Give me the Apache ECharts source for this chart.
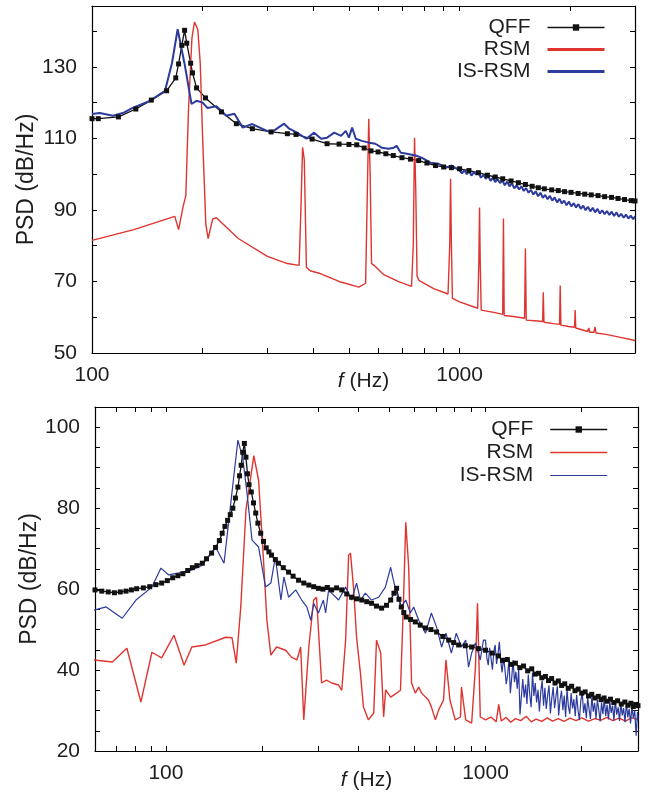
<!DOCTYPE html>
<html>
<head>
<meta charset="utf-8">
<title>PSD spectra</title>
<script src="https://cdn.jsdelivr.net/npm/echarts@6/dist/echarts.min.js"></script>
<style>
  html, body { margin: 0; padding: 0; background: #fff; }
  #chart { width: 649px; height: 802px; }
</style>
</head>
<body>
<div id="chart"></div>
<script>
/* -------------------------------------------------------------------------- */
/*                  Data: [frequency (Hz), PSD (dB/Hz)] pairs                 */
/* -------------------------------------------------------------------------- */

// upper panel
const topQff = [
  [100, 115.5], [104, 115.5], [118, 116], [131.6, 118.2], [145, 120.7], [159.6, 123.3],
  [169, 126.9], [172, 130.8], [175.5, 136], [178.6, 140.2], [181, 136.6], [185.5, 131],
  [187.7, 128.3], [192.5, 124.1], [203.6, 121.3], [225, 117.4], [247, 114.1], [273, 112.7],
  [307, 111.8], [340, 111.3], [359, 111.1], [397, 109.8], [436, 108.5], [470, 108.4],
  [500, 108.3], [525, 108.2], [550, 107.3], [574, 106.5], [600, 106.2], [630, 105.7],
  [660, 105.2], [697, 104.6], [735, 104.2], [774, 103.8], [815, 103.1], [860, 102.4],
  [905, 102.0], [950, 101.8], [1000, 101.5], [1060, 101.0], [1125, 100.4], [1190, 99.7],
  [1250, 99.2], [1310, 98.7], [1380, 98.1], [1445, 97.6], [1510, 97.1], [1575, 96.6],
  [1637, 96.2], [1700, 95.9], [1780, 95.6], [1855, 95.4], [1930, 95.1], [2010, 94.9],
  [2101, 94.6], [2190, 94.4], [2280, 94.2], [2380, 94.0], [2480, 93.7], [2590, 93.5],
  [2697, 93.2], [2810, 92.9], [2930, 92.6], [3000, 92.5]
];

const topRsm = [
  [100, 81.5], [130, 84.5], [160, 87.5], [168, 88.2], [172, 84.5], [177, 91], [180, 94],
  [183, 118], [187, 138], [190, 142.5], [194, 140.5], [197, 131], [200, 110], [204, 86],
  [207, 82], [213, 87.5], [218, 87.8], [250, 82], [300, 77], [340, 75], [366, 74.5],
  [370, 90], [374, 107.5], [378, 104], [383, 74], [392, 73], [415, 72.3], [470, 70],
  [532, 68.4], [555, 69.5], [561, 95], [566, 115.5], [571, 100], [576, 75], [585, 74.5],
  [620, 72], [680, 70], [740, 68.6], [748, 80], [754, 110.2], [760, 95], [766, 71.5],
  [775, 70.3], [850, 68], [930, 66.5], [940, 80], [945, 98.7], [950, 80], [956, 65.3],
  [1000, 64.3], [1120, 62.5], [1128, 75], [1133, 90.7], [1138, 75], [1145, 62],
  [1250, 61.3], [1310, 60.8], [1316, 87.6], [1322, 60.5], [1400, 60.2], [1502, 59.7],
  [1510, 79.2], [1518, 59.2], [1600, 59], [1682, 58.8], [1689, 67], [1696, 58.6],
  [1800, 58.2], [1870, 58], [1878, 68.9], [1886, 57.8], [1980, 57.4], [2055, 57.2],
  [2062, 62], [2070, 57], [2150, 56.5], [2230, 56], [2245, 57], [2260, 55.8], [2320, 55.8],
  [2335, 57.3], [2350, 55.6], [2500, 55.2], [2700, 54.5], [3000, 53.5]
];

const topIsRsm = [
  [100, 116.8], [105, 117.1], [114, 116.3], [122, 117.2], [129, 118.5], [143.6, 120.5],
  [158, 123.3], [165, 131], [171, 140.5], [178.6, 130.8], [186.5, 119.6], [192.5, 120.5],
  [200, 120], [206, 118.5], [218, 119], [232, 116.3], [244, 116.9], [257, 113], [273, 114],
  [290, 112.7], [307, 111.6], [333, 114.1], [344, 112.7], [361, 111.6], [383, 109.9],
  [402, 111.6], [420, 109.9], [436, 110.2], [456, 111.6], [476, 110.7], [490, 112.1],
  [500, 110.2], [510, 113], [522, 109.9], [542, 109.3], [567, 108.8], [590, 108.5],
  [614, 107.4], [641, 107.1], [662, 107.4], [674, 107.9], [692, 106], [719, 105.7],
  [759, 105.2], [788, 104.6], [833, 103.2], [877, 102.9], [916, 101.8], [952, 102.4],
  [1000, 101.0], [1015, 100.2], [1030, 101.1], [1046, 100.0], [1061, 100.8], [1077, 99.6],
  [1093, 100.5], [1110, 99.9], [1126, 100.3], [1143, 99.0], [1161, 99.8], [1178, 98.7],
  [1196, 99.5], [1214, 98.1], [1232, 99.0], [1250, 97.8], [1269, 98.6], [1288, 97.5],
  [1307, 98.2], [1327, 96.9], [1347, 97.9], [1367, 96.6], [1388, 97.4], [1408, 96.0],
  [1430, 96.9], [1451, 95.7], [1473, 96.6], [1495, 95.3], [1517, 96.1], [1540, 94.8],
  [1563, 95.6], [1587, 94.3], [1610, 95.2], [1635, 93.8], [1659, 94.8], [1684, 93.4],
  [1709, 94.2], [1735, 93.0], [1761, 93.9], [1787, 92.6], [1814, 93.5], [1841, 92.1],
  [1869, 93.1], [1897, 91.8], [1925, 92.6], [1954, 91.3], [1984, 92.3], [2013, 91.0],
  [2044, 91.9], [2074, 90.7], [2105, 91.6], [2137, 90.3], [2169, 91.2], [2201, 89.9],
  [2234, 90.9], [2268, 89.6], [2302, 90.6], [2336, 89.3], [2372, 90.3], [2407, 89.0],
  [2443, 89.9], [2480, 88.8], [2517, 89.7], [2555, 88.6], [2593, 89.5], [2632, 88.3],
  [2672, 89.3], [2712, 88.1], [2752, 88.9], [2794, 87.8], [2835, 88.7], [2878, 87.6],
  [2921, 88.4], [2965, 87.4], [3000, 88.2]
];

// lower panel
const bottomQff = [
  [60, 59.8], [63, 59.5], [66, 59.3], [69, 59.1], [72, 59.3], [75, 59.5], [78, 59.8],
  [81, 60.1], [85, 60.3], [89, 60.6], [93, 61.1], [97, 61.5], [101, 62.1], [105, 62.8],
  [109, 63.3], [113, 63.8], [117, 64.6], [121, 65.3], [125, 65.8], [130, 66.4], [134, 67.5],
  [139, 68.9], [143, 70.3], [147, 72], [150, 73.8], [153, 75.5], [156, 77], [159, 78.4],
  [162, 80], [165, 82.5], [168, 85.2], [170, 88], [172, 90.6], [174, 93.8], [176, 96],
  [178, 92.6], [180, 88.5], [182, 85.8], [185, 84], [188, 81.3], [191, 78.8], [194, 76.3],
  [198, 73.8], [202, 71.8], [206, 70.2], [210, 69.2], [214, 68.4], [220, 67.3], [225, 66.4],
  [233, 65.3], [242, 64.2], [250, 63.2], [260, 62.2], [270, 61.5], [280, 61], [290, 60.6],
  [300, 60.2], [310, 60], [320, 60.4], [330, 59.8], [342, 60.3], [355, 59.8], [368, 58.8],
  [381, 58], [395, 57.6], [410, 57.3], [425, 56.9], [440, 56.5], [456, 55.8], [473, 55.3],
  [490, 56], [505, 57.3], [517, 59], [527, 60.2], [536, 57.5], [545, 55.6], [555, 54.2],
  [565, 53.1], [583, 52.5], [603, 51.9], [625, 51.1], [649, 50.4], [675, 50], [703, 49.4],
  [735, 48.3], [767, 47.4], [795, 46.8], [824, 46.2], [865, 46], [905, 45.7], [950, 45.3],
  [1000, 44.9], [1050, 44.2], [1098, 43.5], [1130, 42.4], [1170, 42.6], [1205, 41.4],
  [1240, 41.7], [1280, 40.6], [1315, 41.0], [1355, 39.8], [1395, 40.3], [1430, 39.0],
  [1465, 39.2], [1500, 38.1], [1540, 38.4], [1575, 37.4], [1610, 37.9], [1650, 36.8],
  [1690, 37.3], [1730, 36.2], [1770, 36.6], [1815, 35.5], [1860, 36.0], [1905, 34.9],
  [1950, 35.3], [2000, 34.3], [2050, 34.6], [2100, 33.6], [2150, 34.0], [2200, 33.1],
  [2254, 33.5], [2300, 32.7], [2350, 33.1], [2400, 32.3], [2460, 32.8], [2520, 32.0],
  [2590, 32.4], [2660, 31.6], [2730, 32.1], [2790, 31.3], [2850, 31.8], [2900, 31.0],
  [2950, 31.5], [3000, 31.2]
];

const bottomRsm = [
  [59.6, 42.5], [68, 42], [75.5, 45.4], [83.5, 32.1], [90.4, 44.4], [97, 43], [106, 48.6],
  [114, 41.2], [120.5, 45.7], [133, 46.2], [154, 48.1], [161, 48], [166, 41.7], [171.5, 55.6],
  [178, 79.5], [188.4, 93], [195, 86.9], [202, 67.2], [207, 52.3], [213, 43.7], [222, 45.7],
  [237, 44.9], [247, 43.2], [257, 42.5], [264, 45.7], [270, 27.7], [280, 45.7], [290, 57.3],
  [296, 58], [307, 36.8], [318, 37.5], [330, 36.8], [347, 36.3], [355, 35], [365, 47.4],
  [373, 68.4], [378, 68.9], [387, 59.8], [395, 48.1], [406, 39.3], [415, 30.9], [430, 27.7],
  [447, 29.4], [456, 47.4], [470, 44.2], [480, 28.4], [487, 35.1], [505, 33.3], [527, 34.3],
  [542, 35], [554, 57.3], [563, 76.5], [575, 65.4], [587, 36.8], [603, 34.3], [618, 35.8],
  [631, 34.3], [663, 32.6], [677, 30.9], [697, 27.7], [713, 30.1], [739, 32.6], [752, 42.5],
  [774, 32.6], [804, 27.7], [835, 28.4], [841, 35.8], [867, 27.7], [905, 26.9], [930, 40.7],
  [944, 56.5], [963, 28.4], [1000, 27.7], [1040, 28.4], [1080, 27.2], [1100, 31.5],
  [1120, 27.4], [1160, 28.3], [1200, 27.1], [1240, 28.0], [1290, 27.5], [1340, 28.6],
  [1390, 27.2], [1440, 27.9], [1500, 27.3], [1560, 28.2], [1620, 27.4], [1690, 28.0],
  [1760, 27.3], [1840, 28.1], [1920, 27.5], [2000, 28.2], [2100, 27.4], [2200, 28.0],
  [2300, 27.6], [2400, 28.3], [2500, 27.5], [2620, 28.1], [2740, 27.4], [2860, 28.2],
  [3000, 27.8]
];

const bottomIsRsm = [
  [59.6, 54.8], [65, 55.6], [73, 52.8], [80.6, 57.3], [90.4, 60.5], [96.5, 65.2], [102, 63.5],
  [110, 64], [120, 64.7], [130, 65.9], [143, 70.4], [152, 66.4], [157, 76.3], [163, 87.7],
  [168, 96.8], [174, 92.3], [179, 84.4], [186, 72.1], [195, 70.4], [205, 60.5], [213, 61.5],
  [220, 67.9], [229, 57.3], [234, 63], [242, 58], [255, 59.8], [266, 57.3], [276, 55.6],
  [284, 52.3], [290, 56.5], [300, 54.1], [311, 57.3], [316, 54.1], [323, 59.8], [330, 59],
  [347, 57.3], [365, 60.5], [381, 57.3], [395, 61.5], [406, 57.3], [421, 59], [440, 57.3],
  [463, 58], [486, 60.5], [505, 65.4], [515, 62.2], [527, 59], [545, 55.6], [563, 57.3],
  [582, 54.1], [596, 55.6], [618, 52.3], [649, 49.1], [677, 54.1], [703, 50.6], [729, 45.7],
  [752, 49.1], [782, 44.2], [810, 49.1], [841, 45.7], [867, 47.4], [885, 40.7], [905, 44.2],
  [930, 46.7], [963, 42.5], [985, 47.4],
  [1000, 47.4], [1010, 43.0], [1020, 41.2], [1030, 45.5], [1041, 42.8], [1051, 40.1],
  [1062, 44.6], [1072, 46.2], [1083, 41.5], [1094, 43.9], [1105, 47.0], [1116, 42.2],
  [1127, 39.4], [1138, 43.0], [1149, 40.6], [1161, 36.5], [1173, 38.8], [1184, 42.8],
  [1196, 34.3], [1208, 38.2], [1220, 42.5], [1232, 37.0], [1245, 39.6], [1257, 35.4],
  [1270, 40.2], [1282, 29.0], [1295, 33.5], [1308, 37.8], [1321, 33.2], [1335, 36.4],
  [1348, 31.6], [1361, 38.9], [1375, 34.0], [1389, 30.8], [1403, 39.3], [1417, 33.6],
  [1431, 36.8], [1445, 32.0], [1460, 35.1], [1474, 29.8], [1489, 34.6], [1504, 37.4],
  [1519, 31.2], [1534, 35.6], [1549, 30.4], [1565, 33.8], [1580, 36.2], [1596, 29.3],
  [1612, 33.0], [1628, 35.8], [1645, 30.6], [1661, 33.4], [1678, 36.0], [1694, 28.8],
  [1711, 32.6], [1729, 34.9], [1746, 30.1], [1763, 33.7], [1781, 28.4], [1799, 35.2],
  [1817, 31.0], [1835, 29.2], [1853, 34.3], [1872, 30.5], [1890, 32.8], [1909, 28.6],
  [1928, 33.9], [1948, 30.0], [1967, 27.6], [1987, 32.4], [2007, 34.6], [2027, 29.4],
  [2047, 31.8], [2068, 28.1], [2088, 33.2], [2109, 30.3], [2130, 27.9], [2152, 33.6],
  [2173, 29.7], [2195, 31.9], [2217, 28.0], [2239, 32.7], [2261, 30.2], [2284, 27.3],
  [2307, 32.0], [2330, 29.1], [2353, 33.0], [2377, 28.6], [2401, 31.4], [2425, 27.8],
  [2449, 32.3], [2473, 29.4], [2498, 31.2], [2523, 27.5], [2548, 32.6], [2574, 29.0],
  [2600, 30.8], [2626, 27.4], [2652, 31.9], [2678, 28.8], [2705, 30.6], [2732, 27.1],
  [2760, 32.0], [2787, 28.3], [2815, 30.4], [2843, 26.8], [2872, 31.1], [2900, 28.2],
  [2930, 30.0], [2959, 23.8], [2989, 29.6], [3000, 27.5]
];

// axis ticks and labels
const topFreqTicks = [100, 200, 300, 400, 500, 600, 700, 800, 900, 1000, 2000, 3000];
const topFreqLabels = [100, 1000];
const topPsdTicks = [50, 60, 70, 80, 90, 100, 110, 120, 130, 140];
const topPsdLabels = [50, 70, 90, 110, 130];
const bottomFreqTicks = [60, 70, 80, 90, 100, 200, 300, 400, 500, 600, 700, 800, 900, 1000, 2000, 3000];
const bottomFreqLabels = [100, 1000];
const bottomPsdTicks = [20, 25, 30, 35, 40, 45, 50, 55, 60, 65, 70, 75, 80, 85, 90, 95, 100, 105];
const bottomPsdLabels = [20, 40, 60, 80, 100];

/* -------------------------------------------------------------------------- */

const FONT = '"Liberation Sans", Arial, Helvetica, sans-serif';
const TEXT_COLOR = '#1e1e1e';
const COLORS = { QFF: '#111111', RSM: '#de3530', 'IS-RSM': '#2c3b9c' };

const chart = echarts.init(document.getElementById('chart'));

const textStyle = { fontFamily: FONT, fontSize: 21, color: TEXT_COLOR };

const freqAxes = (gridIndex, min, max, ticks, labels, nameGap) => [
  {
    type: 'log',
    logBase: 10,
    gridIndex,
    position: 'bottom',
    min,
    max,
    name: '{i|f} (Hz)',
    nameLocation: 'middle',
    nameGap,
    nameMoveOverlap: false,
    nameTextStyle: { ...textStyle, rich: { i: { ...textStyle, fontStyle: 'italic' } } },
    axisLine: { show: true, lineStyle: { color: '#000', width: 1.2 } },
    axisTick: { show: true, inside: true, length: 5, customValues: ticks, lineStyle: { color: '#000' } },
    axisLabel: { show: true, customValues: labels, margin: 12, ...textStyle, formatter: v => String(Math.round(v)) },
    splitLine: { show: false }
  },
  {
    // mirrored ticks on the top edge
    type: 'log',
    logBase: 10,
    gridIndex,
    position: 'top',
    min,
    max,
    axisLine: { show: true, lineStyle: { color: '#000', width: 1.2 } },
    axisTick: { show: true, inside: true, length: 5, customValues: ticks, lineStyle: { color: '#000' } },
    axisLabel: { show: false },
    splitLine: { show: false }
  }
];

const psdAxes = (gridIndex, min, max, ticks, labels) => [
  {
    type: 'value',
    gridIndex,
    position: 'left',
    min,
    max,
    name: 'PSD (dB/Hz)',
    nameLocation: 'middle',
    nameGap: 54,
    nameMoveOverlap: false,
    nameTextStyle: { ...textStyle, fontSize: 23 },
    axisLine: { show: true, lineStyle: { color: '#000', width: 1.2 } },
    axisTick: { show: true, inside: true, length: 5, customValues: ticks, lineStyle: { color: '#000' } },
    axisLabel: { show: true, customValues: labels, margin: 15, ...textStyle },
    splitLine: { show: false }
  },
  {
    // mirrored ticks on the right edge
    type: 'value',
    gridIndex,
    position: 'right',
    min,
    max,
    axisLine: { show: true, lineStyle: { color: '#000', width: 1.2 } },
    axisTick: { show: true, inside: true, length: 5, customValues: ticks, lineStyle: { color: '#000' } },
    axisLabel: { show: false },
    splitLine: { show: false }
  }
];

const panelSeries = (axisIndex, qff, rsm, isRsm, widths) => [
  {
    name: 'QFF',
    type: 'line',
    xAxisIndex: axisIndex,
    yAxisIndex: axisIndex,
    data: qff,
    symbol: 'rect',
    symbolSize: 5,
    lineStyle: { color: COLORS.QFF, width: widths[0] },
    itemStyle: { color: COLORS.QFF }
  },
  {
    name: 'RSM',
    type: 'line',
    xAxisIndex: axisIndex,
    yAxisIndex: axisIndex,
    data: rsm,
    symbol: 'none',
    lineStyle: { color: COLORS.RSM, width: widths[1] },
    itemStyle: { color: COLORS.RSM }
  },
  {
    name: 'IS-RSM',
    type: 'line',
    xAxisIndex: axisIndex,
    yAxisIndex: axisIndex,
    data: isRsm,
    symbol: 'none',
    lineStyle: { color: COLORS['IS-RSM'], width: widths[2] },
    itemStyle: { color: COLORS['IS-RSM'] }
  }
];

// legend rows: text on the left, line sample on the right (no marker for plain lines)
const hiddenMarker = { color: 'transparent', borderColor: 'transparent', borderWidth: 0 };
const panelLegend = (top, right, gap, widths) => ({
  orient: 'vertical',
  top,
  right,
  align: 'right',
  padding: 0,
  itemGap: gap,
  itemWidth: 57,
  itemHeight: 8,
  textStyle: { ...textStyle, padding: [0, 12, 0, 0] },
  data: [
    { name: 'QFF', lineStyle: { width: widths[0] } },
    { name: 'RSM', lineStyle: { width: widths[1] }, itemStyle: hiddenMarker },
    { name: 'IS-RSM', lineStyle: { width: widths[2] }, itemStyle: hiddenMarker }
  ]
});

const option = {
  animation: false,
  backgroundColor: '#fff',
  grid: [
    { left: 92, right: 14, top: 6, bottom: 449, outerBoundsMode: 'none', containLabel: false },
    { left: 95, right: 11, top: 407, bottom: 51, outerBoundsMode: 'none', containLabel: false }
  ],
  legend: [
    panelLegend(17, 43, 1, [1.5, 3, 3]),
    panelLegend(419, 41, 2, [1.5, 1.5, 1])
  ],
  xAxis: [
    ...freqAxes(0, 100, 3000, topFreqTicks, topFreqLabels, 18),
    ...freqAxes(1, 60, 3000, bottomFreqTicks, bottomFreqLabels, 19)
  ],
  yAxis: [
    ...psdAxes(0, 50, 147, topPsdTicks, topPsdLabels),
    ...psdAxes(1, 20, 105, bottomPsdTicks, bottomPsdLabels)
  ],
  series: [
    // axis indices: 0 = upper panel (bottom/left axes), 2 = lower panel
    ...panelSeries(0, topQff, topRsm, topIsRsm, [1.3, 1.4, 2]),
    ...panelSeries(2, bottomQff, bottomRsm, bottomIsRsm, [1.3, 1.4, 1.2])
  ]
};

chart.setOption(option);
</script>
</body>
</html>
